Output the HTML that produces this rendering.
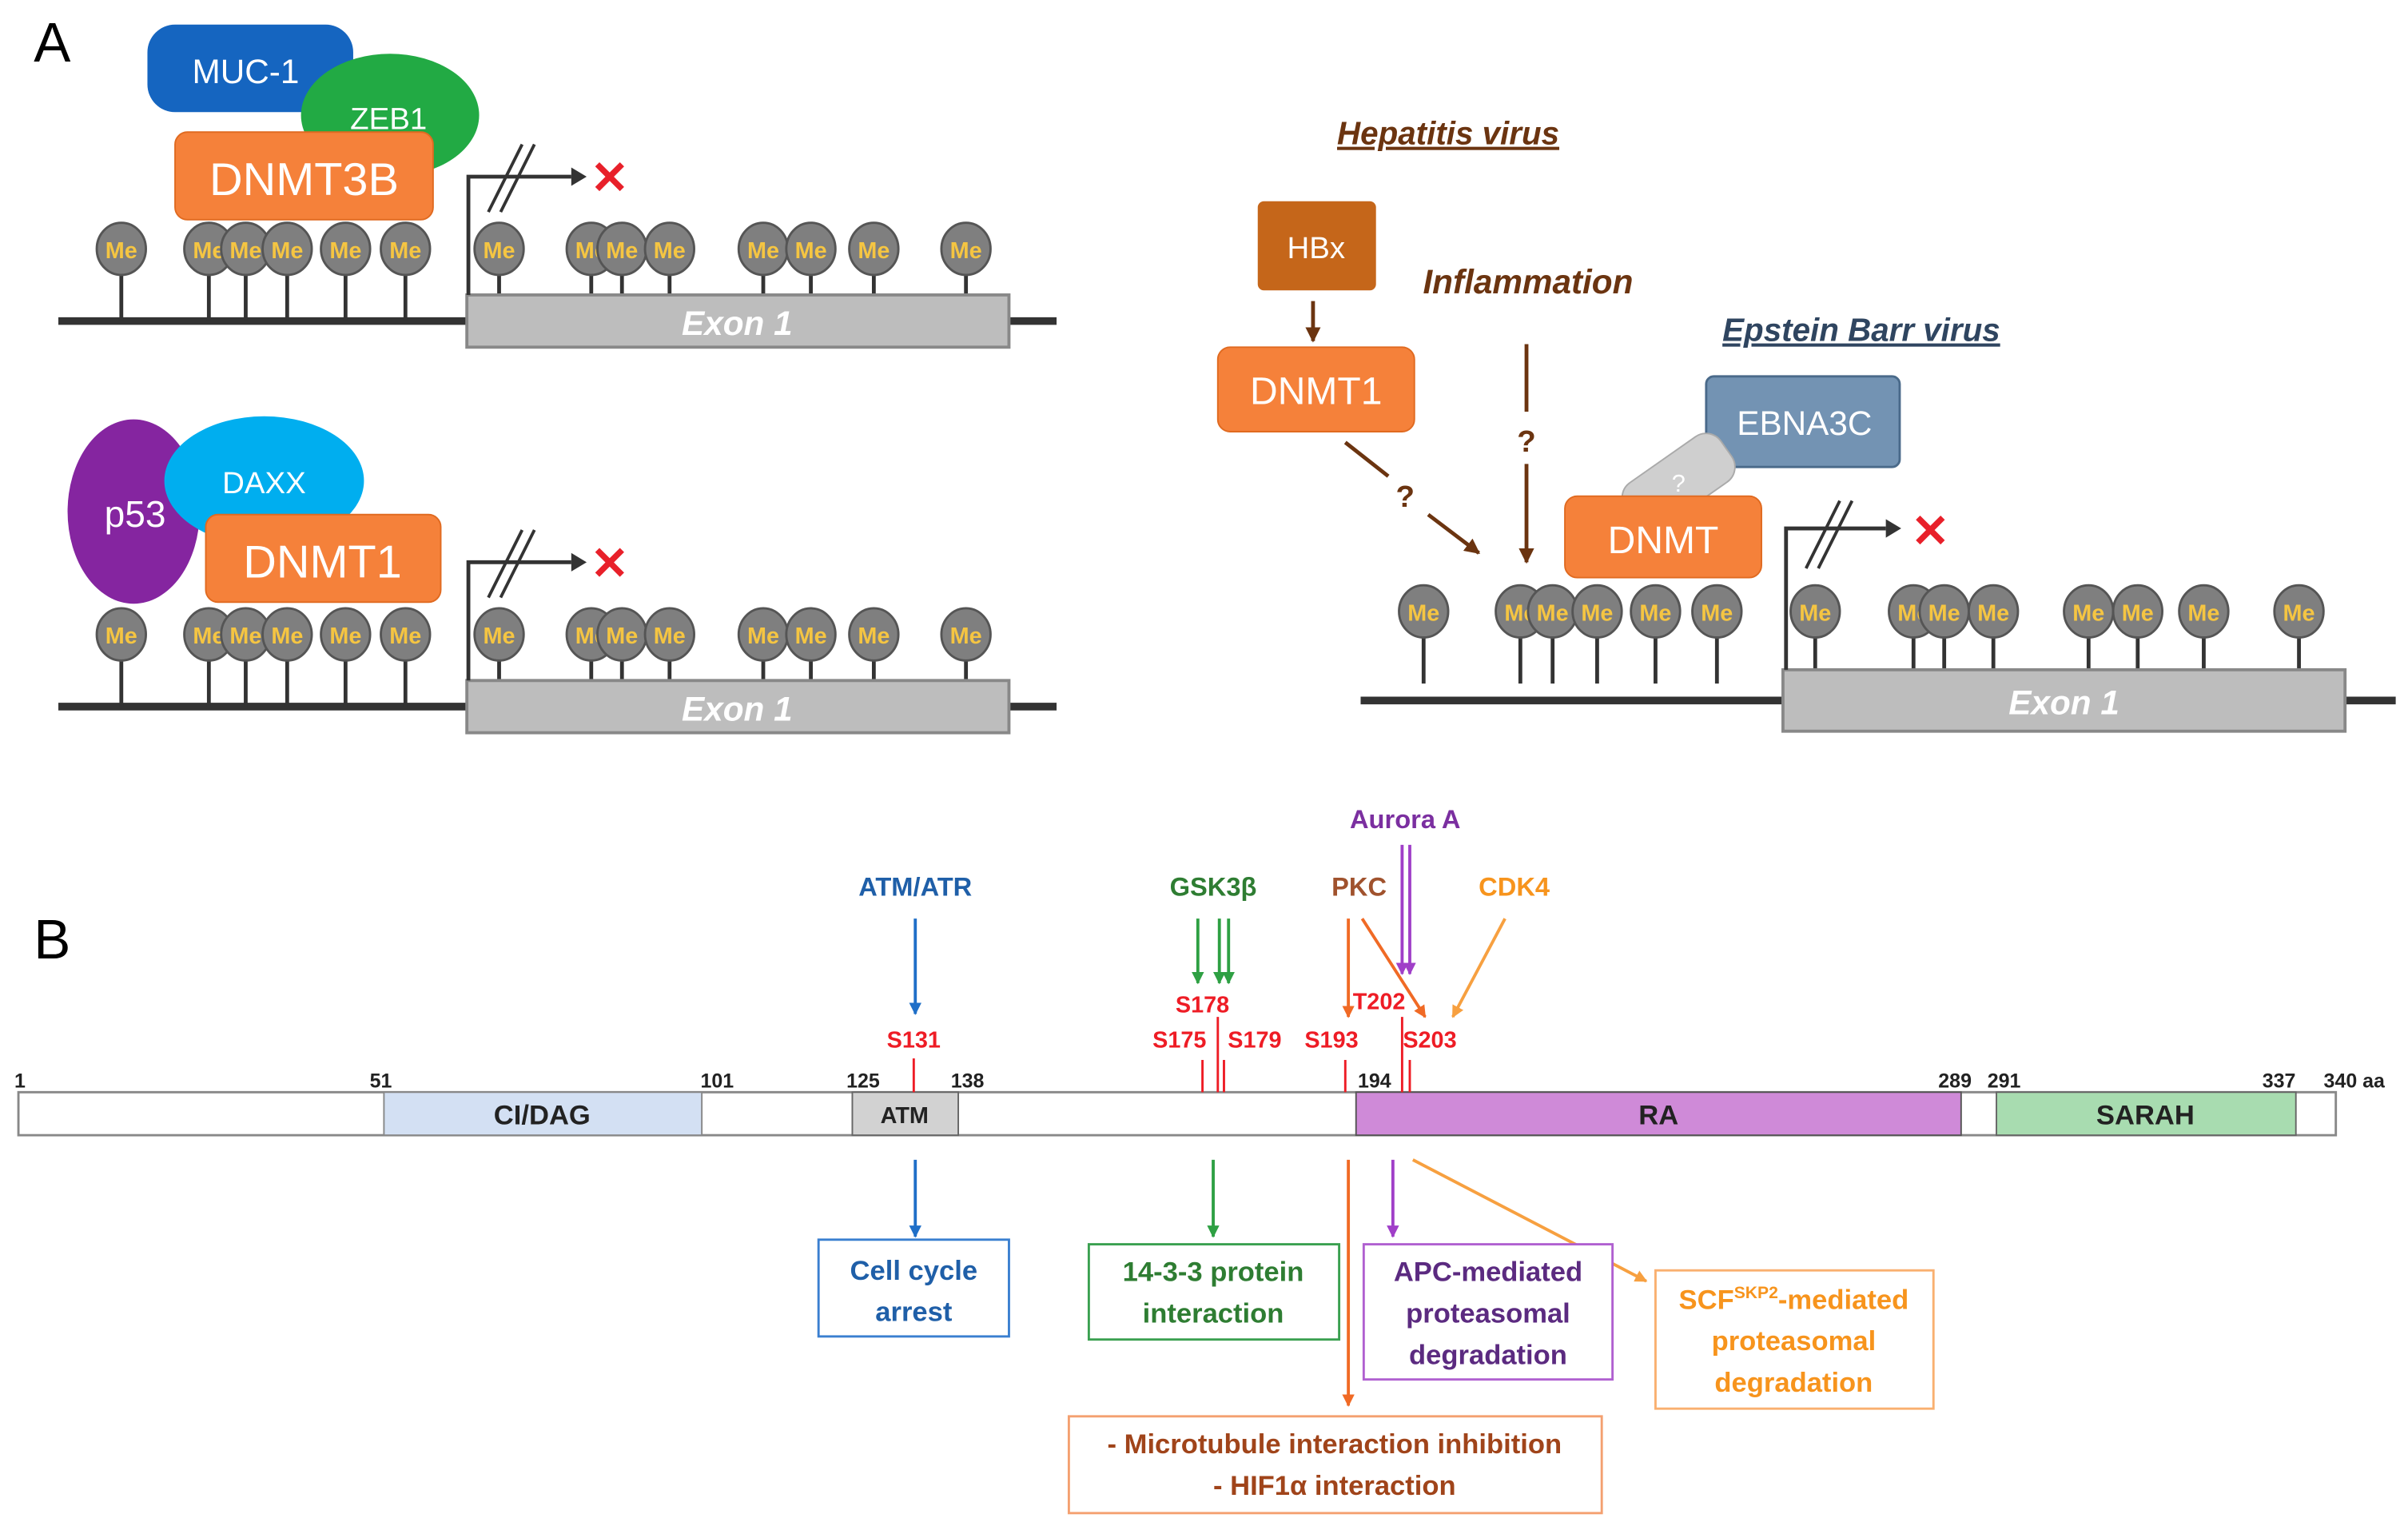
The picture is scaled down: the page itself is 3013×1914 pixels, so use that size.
<!DOCTYPE html>
<html><head><meta charset="utf-8"><style>html,body{margin:0;padding:0;background:#fff}svg{display:block}</style></head>
<body>
<svg width="3013" height="1914" viewBox="0 0 1568 996" preserveAspectRatio="none" xmlns="http://www.w3.org/2000/svg" font-family="Liberation Sans, sans-serif">
<defs>
<marker id="ah" viewBox="0 0 10 10" refX="9" refY="5" markerWidth="4" markerHeight="4" orient="auto"><path d="M0,0L10,5L0,10z" fill="context-stroke"/></marker>
<g id="me"><line x1="0" y1="0" x2="0" y2="47" stroke="#333" stroke-width="2.5"/><ellipse cx="0" cy="0" rx="16" ry="17" fill="#7f7f7f" stroke="#555" stroke-width="1.5"/><text x="0" y="6" font-size="15" font-weight="bold" fill="#f5c542" text-anchor="middle">Me</text></g>
</defs>
<rect width="1568" height="996" fill="#fff"/>
<text x="22" y="40" font-size="36">A</text>
<text x="22" y="624" font-size="36">B</text>

<!-- A top -->
<rect x="96" y="16" width="134" height="57" rx="18" fill="#1565c0"/>
<text x="160" y="54" font-size="22" fill="#fff" text-anchor="middle">MUC-1</text>
<ellipse cx="254" cy="75" rx="58" ry="40" fill="#22aa44"/>
<text x="253" y="84" font-size="20" fill="#fff" text-anchor="middle">ZEB1</text>
<rect x="114" y="86" width="168" height="57" rx="8" fill="#f5813a" stroke="#e06a20"/>
<text x="198" y="127" font-size="30" fill="#fff" text-anchor="middle">DNMT3B</text>
<line x1="38" y1="209" x2="688" y2="209" stroke="#333" stroke-width="5"/>
<g>
<use href="#me" x="79" y="162"/><use href="#me" x="136" y="162"/><use href="#me" x="160" y="162"/><use href="#me" x="187" y="162"/><use href="#me" x="225" y="162"/><use href="#me" x="264" y="162"/><use href="#me" x="325" y="162"/><use href="#me" x="385" y="162"/><use href="#me" x="405" y="162"/><use href="#me" x="436" y="162"/><use href="#me" x="497" y="162"/><use href="#me" x="528" y="162"/><use href="#me" x="569" y="162"/><use href="#me" x="629" y="162"/>
</g>
<rect x="304" y="192" width="353" height="34" fill="#bdbdbd" stroke="#888" stroke-width="2"/>
<text x="480" y="218" font-size="22" font-style="italic" font-weight="bold" fill="#fff" text-anchor="middle">Exon 1</text>
<polyline points="305,192 305,115 372,115" fill="none" stroke="#333" stroke-width="2.5"/>
<path d="M372,109L382,115L372,121z" fill="#333"/>
<line x1="318" y1="138" x2="340" y2="94" stroke="#333" stroke-width="2"/><line x1="326" y1="138" x2="348" y2="94" stroke="#333" stroke-width="2"/>
<text x="397" y="126" font-size="30" font-weight="bold" fill="#e8202a" text-anchor="middle">✕</text>

<!-- A bottom -->
<ellipse cx="87" cy="333" rx="43" ry="60" fill="#8525a0"/>
<text x="88" y="343" font-size="24" fill="#fff" text-anchor="middle">p53</text>
<ellipse cx="172" cy="313" rx="65" ry="42" fill="#00aeef"/>
<text x="172" y="321" font-size="20" fill="#fff" text-anchor="middle">DAXX</text>
<rect x="134" y="335" width="153" height="57" rx="8" fill="#f5813a" stroke="#e06a20"/>
<text x="210" y="376" font-size="30" fill="#fff" text-anchor="middle">DNMT1</text>
<line x1="38" y1="460" x2="688" y2="460" stroke="#333" stroke-width="5"/>
<g>
<use href="#me" x="79" y="413"/><use href="#me" x="136" y="413"/><use href="#me" x="160" y="413"/><use href="#me" x="187" y="413"/><use href="#me" x="225" y="413"/><use href="#me" x="264" y="413"/><use href="#me" x="325" y="413"/><use href="#me" x="385" y="413"/><use href="#me" x="405" y="413"/><use href="#me" x="436" y="413"/><use href="#me" x="497" y="413"/><use href="#me" x="528" y="413"/><use href="#me" x="569" y="413"/><use href="#me" x="629" y="413"/>
</g>
<rect x="304" y="443" width="353" height="34" fill="#bdbdbd" stroke="#888" stroke-width="2"/>
<text x="480" y="469" font-size="22" font-style="italic" font-weight="bold" fill="#fff" text-anchor="middle">Exon 1</text>
<polyline points="305,443 305,366 372,366" fill="none" stroke="#333" stroke-width="2.5"/>
<path d="M372,360L382,366L372,372z" fill="#333"/>
<line x1="318" y1="389" x2="340" y2="345" stroke="#333" stroke-width="2"/><line x1="326" y1="389" x2="348" y2="345" stroke="#333" stroke-width="2"/>
<text x="397" y="377" font-size="30" font-weight="bold" fill="#e8202a" text-anchor="middle">✕</text>

<!-- A right -->
<text x="943" y="94" font-size="21" font-weight="bold" font-style="italic" fill="#6b3410" text-anchor="middle" text-decoration="underline">Hepatitis virus</text>
<rect x="819" y="131" width="77" height="58" rx="4" fill="#c5661a"/>
<text x="857" y="168" font-size="20" fill="#fff" text-anchor="middle">HBx</text>
<line x1="855" y1="196" x2="855" y2="222" stroke="#6b3410" stroke-width="2.5" marker-end="url(#ah)"/>
<rect x="793" y="226" width="128" height="55" rx="8" fill="#f5813a" stroke="#e06a20"/>
<text x="857" y="263" font-size="25" fill="#fff" text-anchor="middle">DNMT1</text>
<text x="995" y="191" font-size="22" font-weight="bold" font-style="italic" fill="#6b3410" text-anchor="middle">Inflammation</text>
<line x1="994" y1="224" x2="994" y2="268" stroke="#6b3410" stroke-width="2.5"/>
<text x="994" y="294" font-size="20" font-weight="bold" fill="#6b3410" text-anchor="middle">?</text>
<line x1="994" y1="302" x2="994" y2="366" stroke="#6b3410" stroke-width="2.5" marker-end="url(#ah)"/>
<line x1="876" y1="288" x2="904" y2="310" stroke="#6b3410" stroke-width="2.5"/>
<text x="915" y="330" font-size="20" font-weight="bold" fill="#6b3410" text-anchor="middle">?</text>
<line x1="930" y1="335" x2="963" y2="360" stroke="#6b3410" stroke-width="2.5" marker-end="url(#ah)"/>
<text x="1212" y="222" font-size="21" font-weight="bold" font-style="italic" fill="#2f4560" text-anchor="middle" text-decoration="underline">Epstein Barr virus</text>
<rect x="1111" y="245" width="126" height="59" rx="5" fill="#7393b3" stroke="#4a6a8a" stroke-width="1.5"/>
<text x="1175" y="283" font-size="22" fill="#fff" text-anchor="middle">EBNA3C</text>
<rect x="1055" y="296" width="76" height="36" rx="12" fill="#cfcfcf" stroke="#aaa" transform="rotate(-35 1093 314)"/>
<text x="1093" y="320" font-size="16" fill="#fff" text-anchor="middle">?</text>
<rect x="1019" y="323" width="128" height="53" rx="8" fill="#f5813a" stroke="#e06a20"/>
<text x="1083" y="360" font-size="25" fill="#fff" text-anchor="middle">DNMT</text>
<line x1="886" y1="456" x2="1560" y2="456" stroke="#333" stroke-width="5"/>
<g>
<use href="#me" x="927" y="398"/><use href="#me" x="990" y="398"/><use href="#me" x="1011" y="398"/><use href="#me" x="1040" y="398"/><use href="#me" x="1078" y="398"/><use href="#me" x="1118" y="398"/><use href="#me" x="1182" y="398"/><use href="#me" x="1246" y="398"/><use href="#me" x="1266" y="398"/><use href="#me" x="1298" y="398"/><use href="#me" x="1360" y="398"/><use href="#me" x="1392" y="398"/><use href="#me" x="1435" y="398"/><use href="#me" x="1497" y="398"/>
</g>
<rect x="1161" y="436" width="366" height="40" fill="#bdbdbd" stroke="#888" stroke-width="2"/>
<text x="1344" y="465" font-size="22" font-style="italic" font-weight="bold" fill="#fff" text-anchor="middle">Exon 1</text>
<polyline points="1163,436 1163,344 1228,344" fill="none" stroke="#333" stroke-width="2.5"/>
<path d="M1228,338L1238,344L1228,350z" fill="#333"/>
<line x1="1176" y1="370" x2="1198" y2="326" stroke="#333" stroke-width="2"/><line x1="1184" y1="370" x2="1206" y2="326" stroke="#333" stroke-width="2"/>
<text x="1257" y="356" font-size="30" font-weight="bold" fill="#e8202a" text-anchor="middle">✕</text>

<!-- B -->
<g font-weight="bold">
<rect x="12" y="711" width="1509" height="28" fill="#fff" stroke="#888" stroke-width="1.5"/>
<rect x="250" y="711" width="207" height="28" fill="#d3e0f3" stroke="#888"/>
<rect x="555" y="711" width="69" height="28" fill="#d2d2d2" stroke="#666"/>
<rect x="883" y="711" width="394" height="28" fill="#cf8ad8" stroke="#555"/>
<rect x="1300" y="711" width="195" height="28" fill="#a8dcb0" stroke="#666"/>
<g font-size="18" fill="#222" text-anchor="middle">
<text x="353" y="732">CI/DAG</text><text x="589" y="731" font-size="15">ATM</text><text x="1080" y="732">RA</text><text x="1397" y="732">SARAH</text>
</g>
<g font-size="13" fill="#222" text-anchor="middle">
<text x="13" y="708">1</text><text x="248" y="708">51</text><text x="467" y="708">101</text><text x="562" y="708">125</text><text x="630" y="708">138</text><text x="895" y="708">194</text><text x="1273" y="708">289</text><text x="1305" y="708">291</text><text x="1484" y="708">337</text><text x="1533" y="708">340 aa</text>
</g>
<g font-size="17" text-anchor="middle">
<text x="596" y="583" fill="#1f5fa8">ATM/ATR</text>
<text x="790" y="583" fill="#2e7d32">GSK3β</text>
<text x="885" y="583" fill="#a0522d">PKC</text>
<text x="915" y="539" fill="#7b2fa0">Aurora A</text>
<text x="986" y="583" fill="#f7941d">CDK4</text>
</g>
<g font-size="15" fill="#ee1c25" text-anchor="middle">
<text x="595" y="682">S131</text><text x="783" y="659">S178</text><text x="768" y="682">S175</text><text x="817" y="682">S179</text><text x="867" y="682">S193</text><text x="898" y="657">T202</text><text x="931" y="682">S203</text>
</g>
<g stroke="#ee1c25" stroke-width="1.5">
<line x1="595" y1="689" x2="595" y2="711"/><line x1="783" y1="690" x2="783" y2="711"/><line x1="793" y1="662" x2="793" y2="711"/><line x1="797" y1="690" x2="797" y2="711"/><line x1="876" y1="690" x2="876" y2="711"/><line x1="913" y1="662" x2="913" y2="711"/><line x1="918" y1="690" x2="918" y2="711"/>
</g>
<g stroke-width="2" fill="none">
<line x1="596" y1="598" x2="596" y2="660" stroke="#1f6fc8" marker-end="url(#ah)"/>
<line x1="780" y1="598" x2="780" y2="640" stroke="#2ea043" marker-end="url(#ah)"/>
<line x1="794" y1="598" x2="794" y2="640" stroke="#2ea043" marker-end="url(#ah)"/>
<line x1="800" y1="598" x2="800" y2="640" stroke="#2ea043" marker-end="url(#ah)"/>
<line x1="878" y1="598" x2="878" y2="662" stroke="#f06a25" marker-end="url(#ah)"/>
<line x1="887" y1="598" x2="928" y2="662" stroke="#f06a25" marker-end="url(#ah)"/>
<line x1="913" y1="550" x2="913" y2="634" stroke="#a03fc8" marker-end="url(#ah)"/>
<line x1="918" y1="550" x2="918" y2="634" stroke="#a03fc8" marker-end="url(#ah)"/>
<line x1="980" y1="598" x2="946" y2="662" stroke="#f7a040" marker-end="url(#ah)"/>
<line x1="596" y1="755" x2="596" y2="805" stroke="#1f6fc8" marker-end="url(#ah)"/>
<line x1="790" y1="755" x2="790" y2="805" stroke="#2ea043" marker-end="url(#ah)"/>
<line x1="907" y1="755" x2="907" y2="805" stroke="#a03fc8" marker-end="url(#ah)"/>
<line x1="878" y1="755" x2="878" y2="915" stroke="#f06a25" marker-end="url(#ah)"/>
<line x1="920" y1="755" x2="1072" y2="834" stroke="#f7a040" marker-end="url(#ah)"/>
</g>
<g fill="#fff" stroke-width="1.5">
<rect x="533" y="807" width="124" height="63" stroke="#3a7fd0"/>
<rect x="709" y="810" width="163" height="62" stroke="#3aa050"/>
<rect x="888" y="810" width="162" height="88" stroke="#b060d0"/>
<rect x="1078" y="827" width="181" height="90" stroke="#f9b070"/>
<rect x="696" y="922" width="347" height="63" stroke="#f4a070"/>
</g>
<g font-size="18" text-anchor="middle">
<text x="595" y="833" fill="#1f5fa8">Cell cycle</text><text x="595" y="860" fill="#1f5fa8">arrest</text>
<text x="790" y="834" fill="#2e7d32">14-3-3 protein</text><text x="790" y="861" fill="#2e7d32">interaction</text>
<text x="969" y="834" fill="#5b2a80">APC-mediated</text><text x="969" y="861" fill="#5b2a80">proteasomal</text><text x="969" y="888" fill="#5b2a80">degradation</text>
<text x="1168" y="852" fill="#f7941d">SCF<tspan font-size="11" dy="-7">SKP2</tspan><tspan dy="7">-mediated</tspan></text><text x="1168" y="879" fill="#f7941d">proteasomal</text><text x="1168" y="906" fill="#f7941d">degradation</text>
<text x="869" y="946" fill="#a0441a">- Microtubule interaction inhibition</text><text x="869" y="973" fill="#a0441a">- HIF1α interaction</text>
</g>
</g>
</svg>
</body></html>
